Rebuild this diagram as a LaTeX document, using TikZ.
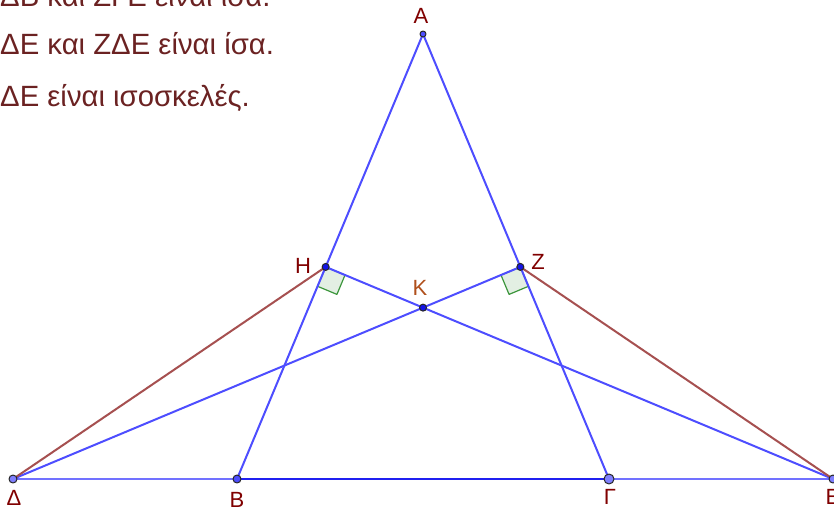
\documentclass[tikz,border=0pt]{standalone}
\usepackage{fontspec}
\setmainfont{Liberation Sans}
\usetikzlibrary{calc}
\definecolor{ggblue}{HTML}{4D4DFF}
\definecolor{ggbase}{HTML}{2020F0}
\definecolor{ggbrown}{HTML}{A65050}
\definecolor{ptdark}{HTML}{1414E6}
\definecolor{ptlight}{HTML}{7F7FFF}
\definecolor{labred}{HTML}{800000}
\definecolor{labk}{HTML}{B0501C}
\definecolor{textred}{HTML}{6B2222}
\definecolor{angfill}{HTML}{E3EFE3}
\definecolor{anggreen}{HTML}{3C963C}

\begin{document}
\begin{tikzpicture}[x=1pt, y=-1pt, line join=round, line cap=round]
  \path[use as bounding box, clip] (0,0) rectangle (834,514);
  \fill[white] (0,0) rectangle (834,514);
  % points of the figure
  \coordinate (A) at (423,34);
  \coordinate (B) at (237,479);
  \coordinate (G) at (609,479);
  \coordinate (D) at (13,479);
  \coordinate (E) at (833,479);
  \coordinate (H) at ($(A)!(E)!(B)$);
  \coordinate (Z) at ($(A)!(D)!(G)$);
  \coordinate (K) at (intersection of D--Z and E--H);
  % statements
  \foreach \y/\txt [count=\i] in {6/ΔΒ και ΖΓΕ είναι ίσα., 54/ΔΕ και ΖΔΕ είναι ίσα., 106/ΔΕ είναι ισοσκελές.} {
    \node[anchor=base west, inner sep=0, textred, font=\fontsize{29.3}{29}\selectfont] (t\i) at (0,\y) {\txt};
  }
  % right angles
  \coordinate (H1) at ($(H)!21pt!(B)$);
  \coordinate (H2) at ($(H)!21pt!(E)$);
  \coordinate (Z1) at ($(Z)!21pt!(G)$);
  \coordinate (Z2) at ($(Z)!21pt!(D)$);
  \draw[anggreen, fill=angfill, line width=1.2] (H) -- (H1) -- ($(H1)+(H2)-(H)$) -- (H2) -- cycle;
  \draw[anggreen, fill=angfill, line width=1.2] (Z) -- (Z1) -- ($(Z1)+(Z2)-(Z)$) -- (Z2) -- cycle;
  % lines
  \draw[ggblue!80, line width=2.6] (D) -- (E);
  \draw[ggbase, line width=2.6] (B) -- (G);
  \draw[ggblue, line width=2] (A) -- (B);
  \draw[ggblue, line width=2] (A) -- (G);
  \draw[ggblue, line width=2] (H) -- (E);
  \draw[ggblue, line width=2] (D) -- (Z);
  \draw[ggbrown, line width=2] (D) -- (H);
  \draw[ggbrown, line width=2] (Z) -- (E);
  % dots
  \foreach \p/\s/\c in {A/6/ggblue, H/7/ptdark, Z/7/ptdark, K/7/ptdark, B/8/ggblue, D/8/ptlight, E/8/ptlight, G/10/ptlight} {
    \node[circle, fill=\c, draw=black!85, line width=1, inner sep=0, minimum size=\s pt] (d\p) at (\p) {};
  }
  % labels
  \foreach \p/\x/\y/\lab in {A/421/16/Α, H/303/266/Η, Z/538/262/Ζ, D/14/498/Δ, B/237/500/Β, G/610/497/Γ, E/833/497/Ε} {
    \node[labred, inner sep=0, font=\fontsize{22}{22}\selectfont] (l\p) at (\x,\y) {\lab};
  }
  \node[labk, inner sep=0, font=\fontsize{22}{22}\selectfont] (lK) at (420,288) {Κ};
\end{tikzpicture}
\end{document}
